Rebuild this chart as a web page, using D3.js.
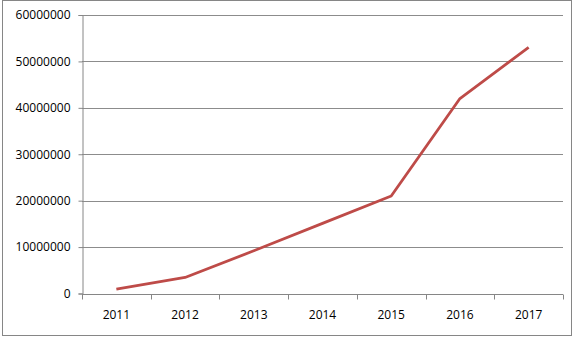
<!DOCTYPE html>
<html>
<head>
<meta charset="utf-8">
<script src="https://cdn.jsdelivr.net/npm/d3@7"></script>
<style>
  body { margin: 0; background: #fff; }
  svg { display: block; }
</style>
</head>
<body>
<div id="drawArea"></div>
<script>
// chart data
var years = ['2011', '2012', '2013', '2014', '2015', '2016', '2017'];
var values = [930000, 3450000, 9200000, 15100000, 21000000, 42000000, 53000000];
var yTicks = [0, 10000000, 20000000, 30000000, 40000000, 50000000, 60000000];

var width = 578, height = 337;
var plot = { left: 82, right: 563, top: 15, bottom: 293.5 };

var svg = d3.select('#drawArea')
    .append('svg')
    .attr('width', width)
    .attr('height', height);

// outer frame
svg.append('rect')
    .attr('x', 2.5)
    .attr('y', 0.5)
    .attr('width', 569)
    .attr('height', 335)
    .attr('fill', '#fff')
    .attr('stroke', '#868686')
    .attr('stroke-width', 1);

var x = d3.scaleBand()
    .domain(years)
    .range([plot.left, plot.right]);

var y = d3.scaleLinear()
    .domain([0, 60000000])
    .range([plot.bottom, plot.top]);

// gridlines
svg.append('g')
    .selectAll('line')
    .data(yTicks.slice(1))
    .enter()
    .append('line')
    .attr('x1', plot.left)
    .attr('x2', plot.right)
    .attr('y1', function (d) { return Math.round(y(d)) + 0.5; })
    .attr('y2', function (d) { return Math.round(y(d)) + 0.5; })
    .attr('stroke', '#8c8c8c')
    .attr('stroke-width', 1);

// y axis
var yAxis = svg.append('g')
    .attr('transform', 'translate(' + (plot.left + 0.5) + ',0)')
    .call(d3.axisLeft(y).tickValues(yTicks).tickSize(4).tickPadding(8).tickFormat(d3.format('d')));

// x axis, ticks on category boundaries
var xAxis = svg.append('g')
    .attr('transform', 'translate(0,' + (Math.round(plot.bottom) + 0.5) + ')')
    .call(d3.axisBottom(x).tickSize(0).tickPadding(16));

xAxis.selectAll('.bound')
    .data(d3.range(years.length + 1))
    .enter()
    .append('line')
    .attr('class', 'bound')
    .attr('x1', function (i) { return Math.round(plot.left + i * x.step()) + 0.5; })
    .attr('x2', function (i) { return Math.round(plot.left + i * x.step()) + 0.5; })
    .attr('y1', 0)
    .attr('y2', 5)
    .attr('stroke', '#868686');

[yAxis, xAxis].forEach(function (g) {
    g.select('.domain').attr('stroke', '#868686');
    g.selectAll('.tick line').attr('stroke', '#868686');
    g.selectAll('text')
        .attr('fill', '#000')
        .style('font-family', '"Open Sans", sans-serif')
        .style('font-size', '12px');
});
xAxis.select('.domain').attr('d', 'M' + plot.left + ',0H' + plot.right);

// series line
var line = d3.line()
    .x(function (d, i) { return x(years[i]) + x.bandwidth() / 2; })
    .y(function (d) { return y(d); });

svg.append('path')
    .datum(values)
    .attr('d', line)
    .attr('fill', 'none')
    .attr('stroke', '#be4b48')
    .attr('stroke-width', 2.8)
    .attr('stroke-linejoin', 'round');
</script>
</body>
</html>
